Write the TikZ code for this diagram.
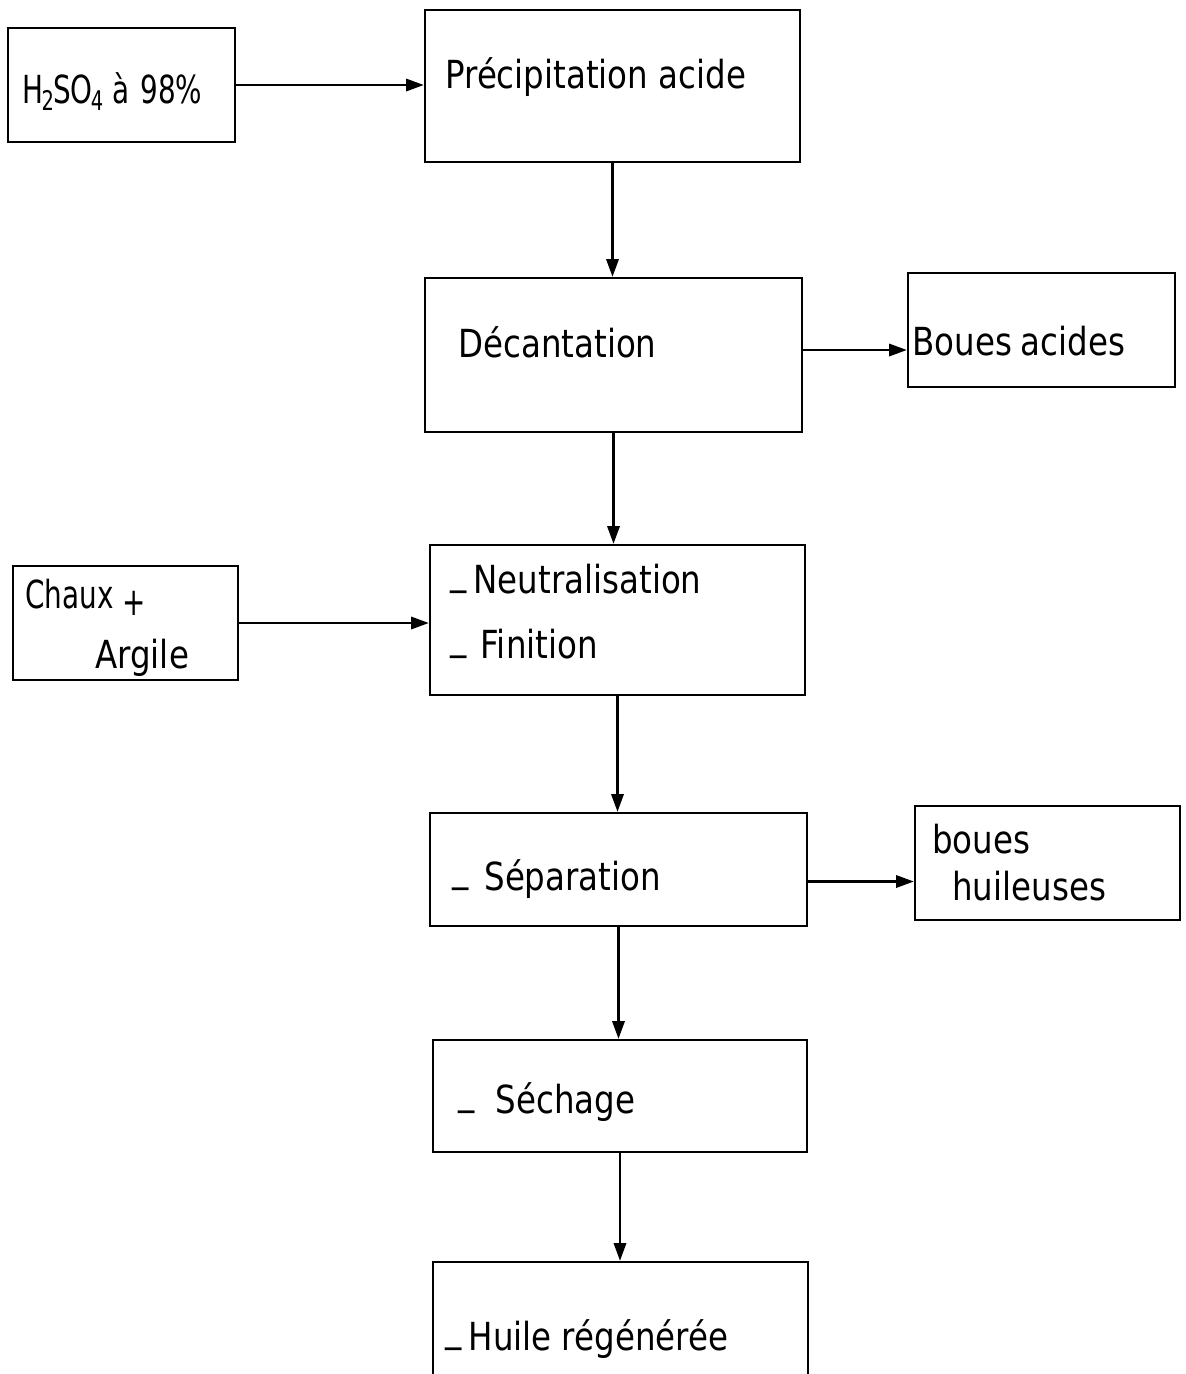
\documentclass[tikz,border=0pt]{standalone}
\usepackage{fontspec}
\setmainfont{DejaVu Sans}[FakeStretch=0.84]
\newfontfamily\narrowfont{DejaVu Sans}[FakeStretch=0.72]
\usetikzlibrary{arrows.meta,fit,calc}
\newcommand\bdash{\raisebox{5pt}{\_}}
\begin{document}
\begin{tikzpicture}[x=0.02cm,y=-0.02cm,
  box/.style={draw,line width=1.4pt,inner sep=0pt},
  lbl/.style={anchor=base west,inner sep=0pt,font=\fontsize{22}{26}\selectfont},
  arr/.style={-{Triangle[length=10pt,width=7pt]},line width=1.2pt}]
\clip (0,0) rectangle (1186,1374);
\fill[white] (0,0) rectangle (1186,1374);
% boxes
\node[box, fit={(8,28) (235,142)}] (h) {};
\node[box, fit={(425,10) (800,162)}] (p) {};
\node[box, fit={(425,278) (802,432)}] (d) {};
\node[box, fit={(908,273) (1175,387)}] (ba) {};
\node[box, fit={(430,545) (805,695)}] (n) {};
\node[box, fit={(13,566) (238,680)}] (c) {};
\node[box, fit={(430,813) (807,926)}] (s) {};
\node[box, fit={(915,806) (1180,920)}] (bh) {};
\node[box, fit={(433,1040) (807,1152)}] (se) {};
\node[box, fit={(433,1262) (808,1400)}] (hu) {};
% texts
\node[lbl] (th) at (22,103) {\narrowfont H\kern-1pt\textsubscript{2}\kern-1ptSO\kern-1pt\textsubscript{4}\hspace{5pt}à\hspace{6pt}98\%};
\node[lbl] (tp) at (445,88) {Précipitation\hspace{6pt}acide};
\node[lbl] (td) at (458,357) {Décantation};
\node[lbl] (tba) at (912,355) {Boues\hspace{5pt}acides};
\node[lbl] (tn1) at (450,593) {\bdash\hspace{4pt}Neutralisation};
\node[lbl] (tn2) at (450,658) {\bdash\hspace{8pt}Finition};
\node[lbl] (tc1) at (25,608) {\narrowfont Chaux\hspace{5pt}\raisebox{-4pt}{+}};
\node[lbl] (tc2) at (95,668) {Argile};
\node[lbl] (ts) at (452,890) {\bdash\hspace{9pt}Séparation};
\node[lbl] (tbh1) at (932,853) {boues};
\node[lbl] (tbh2) at (952,900) {huileuses};
\node[lbl] (tse) at (458,1113) {\bdash\hspace{12pt}Séchage};
\node[lbl] (thu) at (445,1350) {\bdash\hspace{4pt}Huile régénérée};
% arrows
\draw[arr] (h.east) -- (h.east -| p.west);
\draw[arr] (p.south) -- (p.south |- d.north);
\draw[arr] ($(d.east)+(0,-5)$) -- ($(d.east -| ba.west)+(0,-5)$);
\draw[arr] (d.south) -- (d.south |- n.north);
\draw[arr] (c.east) -- (c.east -| n.west);
\draw[arr] (n.south) -- (n.south |- s.north);
\draw[arr] ($(s.east)+(0,12)$) -- ($(s.east -| bh.west)+(0,12)$);
\draw[arr] (s.south) -- (s.south |- se.north);
\draw[arr] (se.south) -- (se.south |- hu.north);
\end{tikzpicture}
\end{document}
